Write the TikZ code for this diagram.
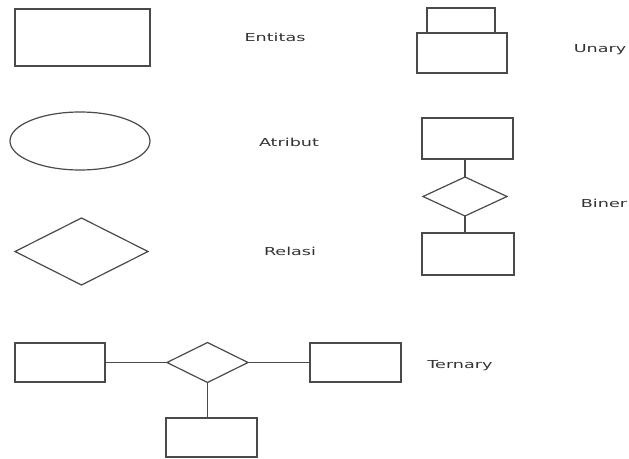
\documentclass[tikz,border=0pt]{standalone}
\usepackage{fontspec}
\setmainfont{DejaVu Sans}
\usetikzlibrary{shapes.geometric}
\definecolor{ln}{HTML}{4A4A4A}
\definecolor{tx}{HTML}{333333}
\begin{document}
\begin{tikzpicture}[x=1pt,y=-1pt,
  shp/.style={draw=ln,line width=1.2pt,inner sep=0pt,outer sep=0pt},
  rel/.style={shp,diamond},
  conn/.style={draw=ln,line width=1.2pt},
  lbl/.style={text=tx,font=\fontsize{11}{13}\selectfont,inner sep=0pt}]
\useasboundingbox (0,0) rectangle (629,458);
% legend shapes
\node[shp,rectangle,minimum width=135pt,minimum height=57pt] (entitas) at (82.5,37.5) {};
\node[shp,ellipse,minimum width=140pt,minimum height=58pt] (atribut) at (80,141) {};
\node[rel,minimum width=133pt,minimum height=67pt] (relasi) at (81.5,251.5) {};
\node[lbl] (tEntitas) at (275,37) {\scalebox{1.6}[1]{Entitas}};
\node[lbl] (tAtribut) at (289,142) {\scalebox{1.6}[1]{Atribut}};
\node[lbl] (tRelasi) at (290,251) {\scalebox{1.6}[1]{Relasi}};
% unary
\node[shp,rectangle,minimum width=68pt,minimum height=25pt] (uTop) at (461,20.5) {};
\node[shp,rectangle,minimum width=90pt,minimum height=40pt] (uBot) at (462,53) {};
\node[lbl] (tUnary) at (600,50) {\scalebox{1.6}[1]{Unary}};
% biner
\node[shp,rectangle,minimum width=91pt,minimum height=41pt] (bTop) at (467.5,138.5) {};
\node[rel,minimum width=84pt,minimum height=39pt] (bRel) at (465,196.5) {};
\node[shp,rectangle,minimum width=92pt,minimum height=42pt] (bBot) at (468,254) {};
\draw[conn] (bRel.north) -- (bRel.north |- bTop.south);
\draw[conn] (bRel.south) -- (bRel.south |- bBot.north);
\node[lbl] (tBiner) at (604,203) {\scalebox{1.6}[1]{Biner}};
% ternary
\node[shp,rectangle,minimum width=90pt,minimum height=39pt] (tL) at (60,362.5) {};
\node[rel,minimum width=81pt,minimum height=40pt] (tRel) at (207.5,362.5) {};
\node[shp,rectangle,minimum width=91pt,minimum height=39pt] (tR) at (355.5,362.5) {};
\node[shp,rectangle,minimum width=91pt,minimum height=39pt] (tB) at (211.5,437.5) {};
\draw[conn] (tL.east) -- (tRel.west);
\draw[conn] (tRel.east) -- (tR.west);
\draw[conn] (tRel.south) -- (tRel.south |- tB.north);
\node[lbl] (tTernary) at (460,366) {\scalebox{1.6}[1]{Ternary}};
\end{tikzpicture}
\end{document}
